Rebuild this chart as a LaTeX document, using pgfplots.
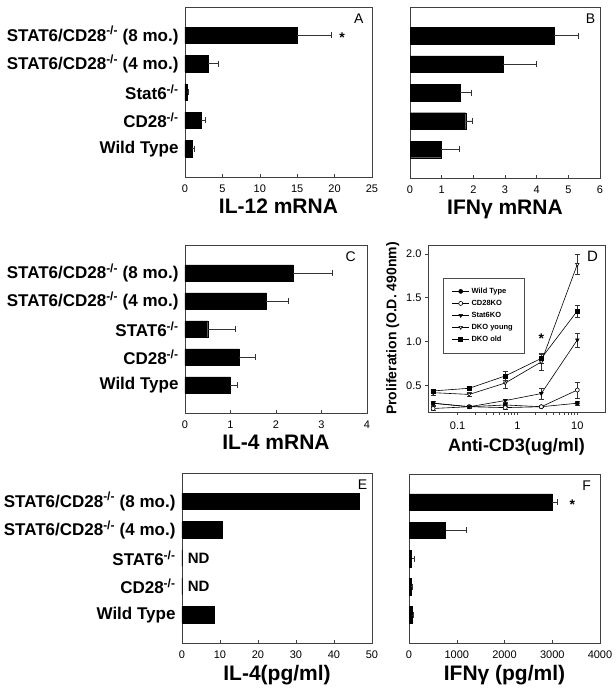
\documentclass[border=0pt]{standalone}
\usepackage{fontspec}
\setmainfont{Liberation Sans}
\usepackage{pgfplots}
\pgfplotsset{compat=1.18}

\newcommand{\ko}{\textsuperscript{-/-}}

\pgfplotsset{
  panel/.style={scale only axis, anchor=north west, axis line style={black!75},
    tick style={black!75, line width=0.5pt}, major tick length=3pt,
    tick label style={font=\fontsize{11}{12}\selectfont},
    /pgf/number format/assume math mode=true,
    /pgf/number format/1000 sep={},
    label style={font=\bfseries\fontsize{21}{24}\selectfont}},
  barpanel/.style={panel, xbar, xmin=0, ymin=-1, ymax=5, ytick={0,1,2,3,4},
    bar width=16.5pt, xtick align=inside, xtick pos=lower, ytick style={draw=none},
    yticklabel style={font=\bfseries\fontsize{17}{19}\selectfont},
    xticklabel style={yshift=-4pt}, scaled x ticks=false,
    error bars/x dir=plus, error bars/x explicit,
    error bars/error bar style={black!80, line width=0.6pt},
    error bars/error mark options={rotate=90, black!80, line width=0.6pt, mark size=3pt}},
  blk/.style={draw=black, fill=black},
}
\tikzset{letter/.style={font=\fontsize{14}{16}\selectfont}}

\begin{document}
\begin{tikzpicture}
\useasboundingbox (0,0) rectangle (616pt,-691pt);

% A
\begin{axis}[barpanel, at={(185pt,-7pt)}, width=187pt, height=170pt, xmax=25,
  xtick={0,5,...,25},
  yticklabels={Wild Type,CD28\ko,Stat6\ko,STAT6/CD28\ko{} (4 mo.),STAT6/CD28\ko{} (8 mo.)},
  xlabel={IL-12 mRNA}]
\addplot[blk] coordinates {(1.0,0) +- (0.2,0) (2.2,1) +- (0.5,0) (0.3,2) +- (0.2,0)
  (3.1,3) +- (1.3,0) (15.0,4) +- (4.6,0)};
\node[font=\bfseries\fontsize{14}{16}\selectfont] at (axis cs:21,3.9) {*};
\node[letter] at (rel axis cs:0.93,0.93) {A};
\end{axis}

% B
\begin{axis}[barpanel, at={(410pt,-7pt)}, width=190pt, height=171pt, xmax=6,
  xtick={0,...,6}, yticklabels={}, xlabel={IFNγ mRNA}]
\addplot[blk] coordinates {(0.98,0) +- (0.58,0) (1.76,1) +- (0.21,0) (1.58,2) +- (0.37,0)
  (2.95,3) +- (1.03,0) (4.56,4) +- (0.76,0)};
\node[letter] at (rel axis cs:0.95,0.93) {B};
\end{axis}

% C
\begin{axis}[barpanel, at={(185pt,-245pt)}, width=182pt, height=168pt, xmax=4,
  xtick={0,...,4},
  yticklabels={Wild Type,CD28\ko,STAT6\ko,STAT6/CD28\ko{} (4 mo.),STAT6/CD28\ko{} (8 mo.)},
  xlabel={IL-4 mRNA}]
\addplot[blk] coordinates {(1.0,0) +- (0.14,0) (1.19,1) +- (0.36,0) (0.5,2) +- (0.61,0)
  (1.79,3) +- (0.48,0) (2.38,4) +- (0.85,0)};
\node[letter] at (rel axis cs:0.91,0.93) {C};
\end{axis}

% D
\begin{axis}[panel, at={(428pt,-245pt)}, width=177pt, height=167pt,
  xmode=log, xmin=0.032, xmax=29, ymin=0.2, ymax=2.1,
  xtick={0.1,1,10}, xticklabels={0.1,1,10}, minor xtick={},
  ytick={0.5,1.0,1.5,2.0}, yticklabels={0.5,1.0,1.5,2.0},
  tick align=outside, tick pos=lower, xticklabel style={yshift=-3pt},
  xlabel={Anti-CD3(ug/ml)}, ylabel={Proliferation (O.D. 490nm)},
  xlabel style={font=\bfseries\fontsize{18}{20}\selectfont, yshift=-2pt},
  ylabel style={font=\bfseries\fontsize{14}{16}\selectfont},
  legend style={at={(0.083,0.804)}, anchor=north west, draw=black!70,
    font=\bfseries\fontsize{7.5}{8}\selectfont, inner xsep=9pt, inner ysep=8pt, row sep=1.2pt},
  legend cell align=left,
  every axis plot/.append style={black, line width=0.6pt, mark size=2pt,
    error bars/y dir=both, error bars/y explicit,
    error bars/error bar style={black!80, line width=0.5pt},
    error bars/error mark options={rotate=90, black!80, line width=0.5pt, mark size=2.5pt}}]
\addplot[mark=*] coordinates {(0.039,0.30) +- (0,0.02) (0.156,0.26) +- (0,0.01)
  (0.625,0.28) +- (0,0.02) (2.5,0.26) +- (0,0.01) (10,0.30) +- (0,0.02)};
\addplot[mark=*, mark options={fill=white}] coordinates {(0.039,0.24) +- (0,0.02)
  (0.156,0.26) +- (0,0.02) (0.625,0.25) +- (0,0.02) (2.5,0.26) +- (0,0.01) (10,0.45) +- (0,0.09)};
\addplot[mark=triangle*, mark options={rotate=180}] coordinates {(0.039,0.30) +- (0,0.02)
  (0.156,0.26) +- (0,0.02) (0.625,0.33) +- (0,0.02) (2.5,0.41) +- (0,0.06) (10,1.02) +- (0,0.08)};
\addplot[mark=triangle*, mark options={rotate=180, fill=white}] coordinates {(0.039,0.42) +- (0,0.03)
  (0.156,0.40) +- (0,0.02) (0.625,0.53) +- (0,0.06) (2.5,0.77) +- (0,0.10) (10,1.88) +- (0,0.11)};
\addplot[mark=square*] coordinates {(0.039,0.44) +- (0,0.02)
  (0.156,0.47) +- (0,0.02) (0.625,0.61) +- (0,0.05) (2.5,0.81) +- (0,0.05) (10,1.35) +- (0,0.07)};
\legend{Wild Type,CD28KO,Stat6KO,DKO young,DKO old}
\node[font=\bfseries\fontsize{14}{16}\selectfont] at (axis cs:2.5,1.03) {*};
\node[font=\fontsize{15}{17}\selectfont] at (rel axis cs:0.93,0.93) {D};
\end{axis}

% E
\begin{axis}[barpanel, at={(182pt,-473pt)}, width=190pt, height=170pt, xmax=50,
  xtick={0,10,...,50},
  yticklabels={Wild Type,CD28\ko,STAT6\ko,STAT6/CD28\ko{} (4 mo.),STAT6/CD28\ko{} (8 mo.)},
  xlabel={IL-4(pg/ml)}]
\addplot[blk] coordinates {(8.4,0) (0,1) (0,2) (10.5,3) (46.7,4)};
\node[anchor=west, font=\bfseries\fontsize{15}{17}\selectfont] at (axis cs:0.6,2) {ND};
\node[anchor=west, font=\bfseries\fontsize{15}{17}\selectfont] at (axis cs:0.6,1) {ND};
\node[letter] at (rel axis cs:0.95,0.93) {E};
\end{axis}

% F
\begin{axis}[barpanel, at={(409pt,-474pt)}, width=191pt, height=169pt, xmax=4000,
  xtick={0,1000,...,4000}, yticklabels={}, xlabel={IFNγ (pg/ml)}]
\addplot[blk] coordinates {(70,0) +- (20,0) (42,1) +- (21,0) (56,2) +- (48,0)
  (765,3) +- (425,0) (3000,4) +- (100,0)};
\node[font=\bfseries\fontsize{14}{16}\selectfont] at (axis cs:3420,3.9) {*};
\node[letter] at (rel axis cs:0.93,0.93) {F};
\end{axis}
\end{tikzpicture}
\end{document}
